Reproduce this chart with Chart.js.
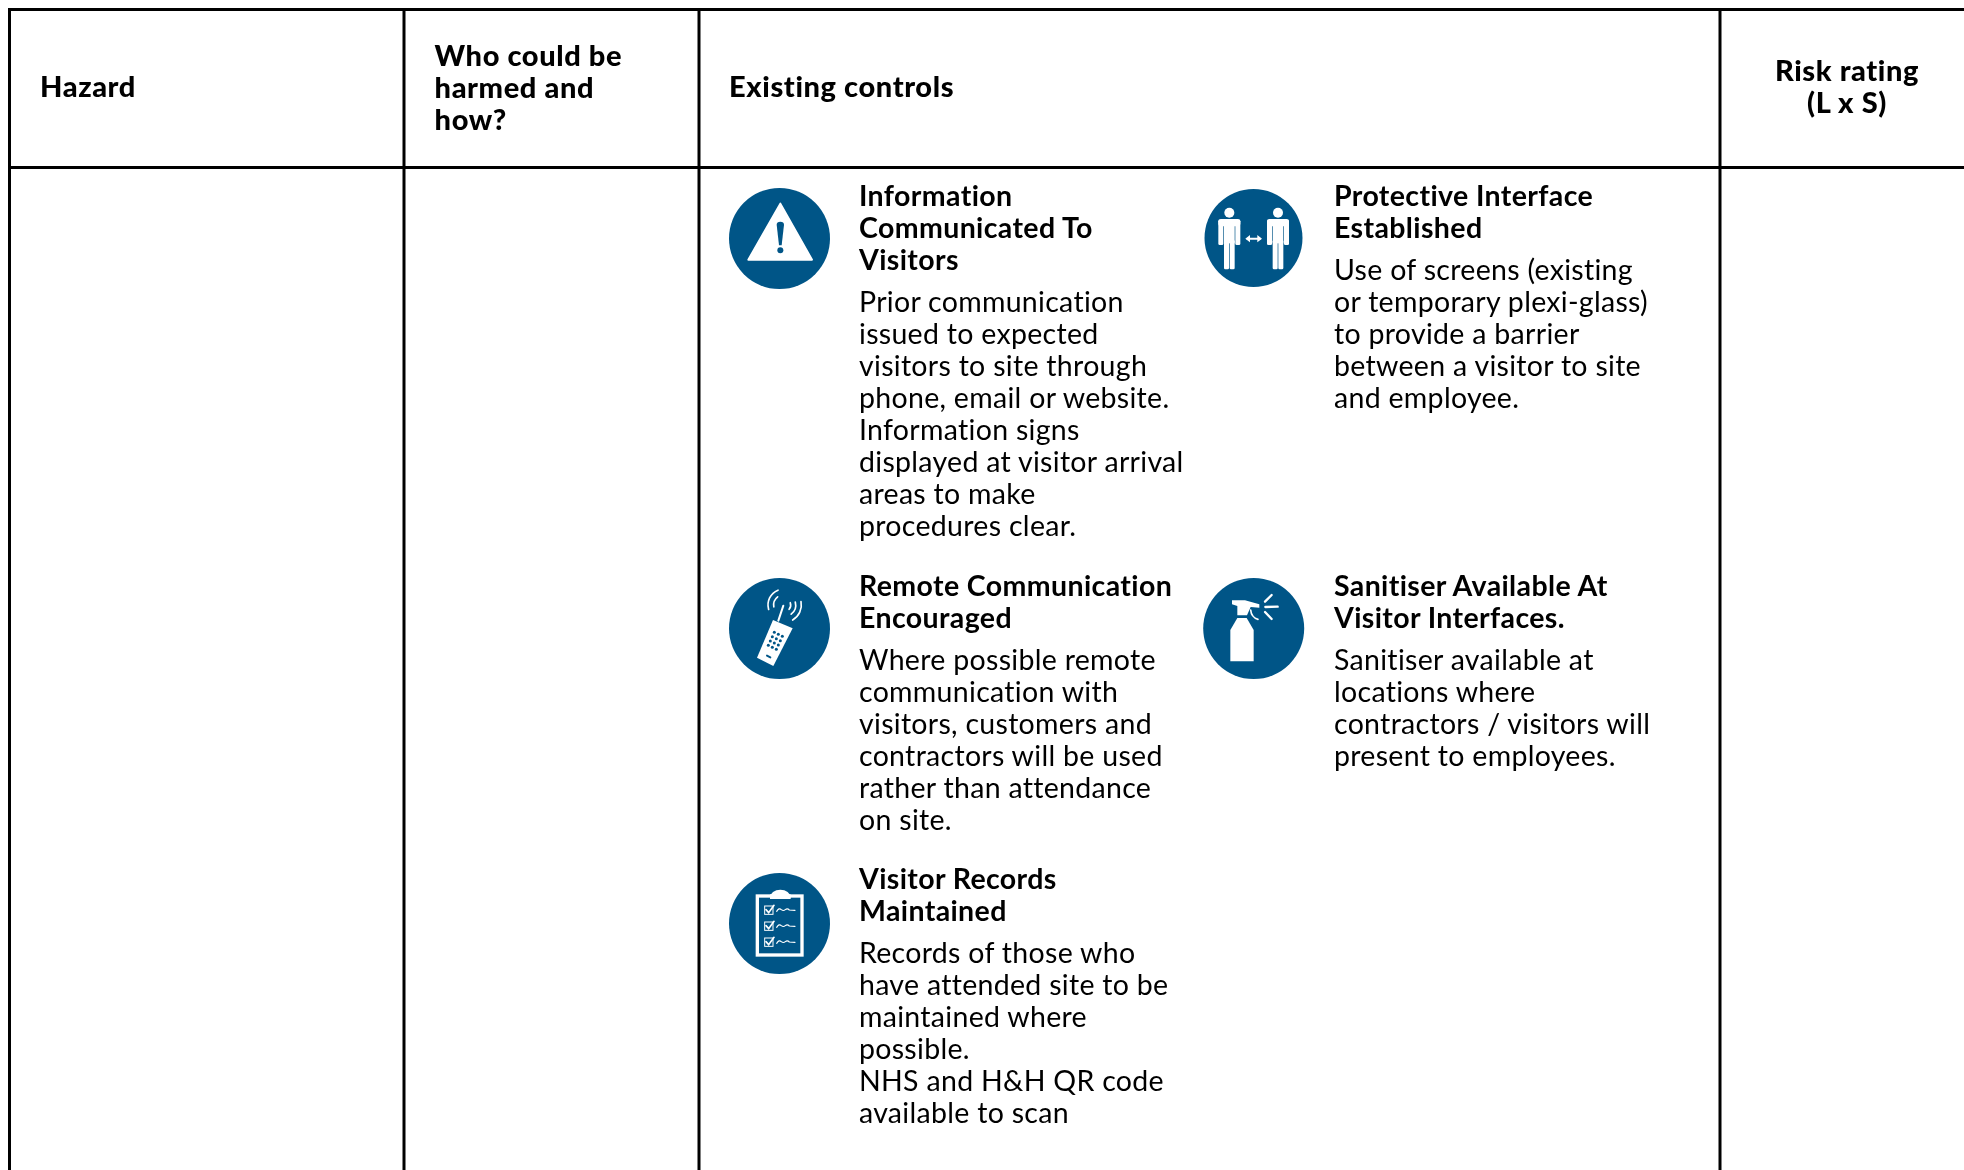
<!DOCTYPE html>
<html>
<head>
<meta charset="utf-8">
<title>Risk assessment table</title>
<script src="https://cdn.jsdelivr.net/npm/chart.js@4/dist/chart.umd.min.js"></script>
<style>
  html, body { margin:0; padding:0; background:#fff; }
  #wrap { position:relative; width:1964px; height:1170px; overflow:hidden; font-family:Lato, sans-serif; color:#000; }
  #chart { position:absolute; left:0; top:0; }
  .txt { position:absolute; white-space:nowrap; font-size:28.5px; line-height:32px; }
  .txt div { height:32px; }
  .head { font-weight:700; letter-spacing:.38px; }
  .body { margin-top:10px; font-weight:400; letter-spacing:.3px; }
  .th { font-weight:900; font-size:29px; letter-spacing:.6px; }
</style>
</head>
<body>
<div id="wrap"><canvas id="chart" width="1964" height="1170"></canvas></div>
<script>
// Tabla de riesgos: reglas e iconos van por las escalas de Chart.js (1 unidad = 1px)
const columnRules = [9.5, 404, 699, 1720];
const rowRules = [9.5, 167.5];

const iconX = [779.5, 1253.5, 779.5, 1253.7, 779.5];
const iconY = [238.5, 238, 628.5, 628.5, 923.5];
const iconR = [50.5, 49, 50.5, 50.5, 50.5];
const glyphX = [780, 1260, 780, 1260, 780];
const glyphY = [240, 240, 630, 630, 925];

const tableHeaders = ['Hazard', 'Who could be|harmed and|how?', 'Existing controls', 'Risk rating|(L x S)'];

const controlTitles = [
  ['Information', 'Communicated To', 'Visitors'],
  ['Protective Interface', 'Established'],
  ['Remote Communication', 'Encouraged'],
  ['Sanitiser Available At', 'Visitor Interfaces.'],
  ['Visitor Records', 'Maintained']
];
const controlTexts = [
  ['Prior communication', 'issued to expected', 'visitors to site through', 'phone, email or website.', 'Information signs', 'displayed at visitor arrival', 'areas to make', 'procedures clear.'],
  ['Use of screens (existing', 'or temporary plexi-glass)', 'to provide a barrier', 'between a visitor to site', 'and employee.'],
  ['Where possible remote', 'communication with', 'visitors, customers and', 'contractors will be used', 'rather than attendance', 'on site.'],
  ['Sanitiser available at', 'locations where', 'contractors / visitors will', 'present to employees.'],
  ['Records of those who', 'have attended site to be', 'maintained where', 'possible.', 'NHS and H&H QR code', 'available to scan']
];
const controlLeft = [859, 1334, 859, 1334, 859];
const controlTop = [178.5, 178.5, 569, 569, 862];

const BLUE = '#005587';

// --- texto real en HTML ---
const wrap = document.getElementById('wrap');
function addLines(lines, cls, left, top, center){
  const d = document.createElement('div');
  d.className = 'txt ' + cls;
  d.style.left = left + 'px';
  d.style.top = top + 'px';
  if (center) { d.style.transform = 'translateX(-50%)'; d.style.textAlign = 'center'; }
  lines.forEach(t => { const l = document.createElement('div'); l.textContent = t; d.appendChild(l); });
  wrap.appendChild(d);
  return d;
}
addLines(tableHeaders[0].split('|'), 'th', 40, 70);
addLines(tableHeaders[1].split('|'), 'th', 434.6, 39);
addLines(tableHeaders[2].split('|'), 'th', 729, 70);
addLines(tableHeaders[3].split('|'), 'th', 1847, 54, true);

controlTitles.forEach((title, i) => {
  const d = addLines(title, 'head', controlLeft[i], controlTop[i]);
  const b = document.createElement('div');
  b.className = 'body';
  controlTexts[i].forEach(t => { const l = document.createElement('div'); l.textContent = t; b.appendChild(l); });
  d.appendChild(b);
});

// --- glifos de los iconos, en un lienzo de 140px dibujado a 3x ---
function glyphCanvas(draw){
  const c = document.createElement('canvas');
  c.width = 140; c.height = 140;
  const g = c.getContext('2d');
  g.scale(1/3, 1/3);
  g.fillStyle = '#fff'; g.strokeStyle = '#fff'; g.lineCap = 'round'; g.lineJoin = 'round';
  draw(g);
  return c;
}
function seg(g, x1, y1, x2, y2, w){ g.lineWidth = w; g.beginPath(); g.moveTo(x1,y1); g.lineTo(x2,y2); g.stroke(); }
function poly(g, pts){ g.beginPath(); pts.forEach((p,i) => i ? g.lineTo(p[0],p[1]) : g.moveTo(p[0],p[1])); g.closePath(); g.fill(); }

const warningGlyph = glyphCanvas(g => {
  g.lineWidth = 6;
  g.beginPath(); g.moveTo(211,101); g.lineTo(306,269); g.lineTo(115,269); g.closePath(); g.fill(); g.stroke();
  g.fillStyle = BLUE;
  g.beginPath(); g.moveTo(200,164); g.quadraticCurveTo(200,155,211,155); g.quadraticCurveTo(222,155,222,164);
  g.lineTo(215,226); g.lineTo(207,226); g.closePath(); g.fill();
  g.beginPath(); g.arc(211,241,9,0,Math.PI*2); g.fill();
});

const peopleGlyph = glyphCanvas(g => {
  [118, 264].forEach(cx => {
    g.beginPath(); g.arc(cx,128,15,0,Math.PI*2); g.fill();
    g.beginPath(); g.roundRect(cx-33,147,66,22,7); g.fill();
    g.beginPath(); g.roundRect(cx-33,150,15,75,4); g.fill();
    g.beginPath(); g.roundRect(cx+18,150,15,75,4); g.fill();
    g.fillRect(cx-16,150,32,70);
    g.beginPath(); g.roundRect(cx-16,210,15,88,4); g.fill();
    g.beginPath(); g.roundRect(cx+1,210,15,88,4); g.fill();
  });
  seg(g,172,206,210,206,6);
  poly(g,[[166,206],[180,195],[180,217]]);
  poly(g,[[216,206],[202,195],[202,217]]);
});

const phoneGlyph = glyphCanvas(g => {
  seg(g,205,182,220,137,6);
  poly(g,[[189,180],[248,205],[190,318],[141,293]]);
  g.lineWidth = 5;
  const arcs = [[48,164,248],[31,170,232],[52,-11,60],[35,-14,52],[20,-20,40]];
  arcs.forEach(a => { g.beginPath(); g.arc(222,135,a[0],a[1]*Math.PI/180,a[2]*Math.PI/180); g.stroke(); });
  g.fillStyle = BLUE;
  for (let r = 0; r < 4; r++) for (let k = 0; k < 3; k++) {
    g.beginPath(); g.arc(193 + k*12 - r*6, 217 + k*6 + r*13, 4.5, 0, Math.PI*2); g.fill();
  }
  g.strokeStyle = BLUE;
  seg(g,171,287,181,292,6);
});

const sprayGlyph = glyphCanvas(g => {
  poly(g,[[126,121],[165,121],[208,133],[208,143],[182,141],[171,166],[142,166],[142,138],[126,133]]);
  poly(g,[[142,174],[170,174],[191,210],[191,304],[121,304],[121,210]]);
  g.lineWidth = 5;
  g.beginPath(); g.moveTo(182,150); g.quadraticCurveTo(184,172,204,178); g.stroke();
  seg(g,225,125,245,105,7);
  seg(g,226,141,263,140,7);
  seg(g,225,156,245,177,7);
});

const clipboardGlyph = glyphCanvas(g => {
  g.lineWidth = 10;
  g.lineJoin = 'miter';
  g.strokeRect(142,123,134,177);
  g.beginPath(); g.ellipse(211,128,31,24,0,Math.PI,0); g.fill();
  g.fillRect(180,118,62,14);
  [153, 201, 249].forEach(y => {
    g.lineWidth = 3;
    g.lineJoin = 'miter';
    g.strokeRect(164,y,25,25);
    g.lineCap = 'round';
    g.lineWidth = 5;
    g.beginPath(); g.moveTo(168,y+11); g.lineTo(176,y+20); g.lineTo(192,y-2); g.stroke();
    g.lineWidth = 3.5;
    g.beginPath(); g.moveTo(200,y+16);
    g.quadraticCurveTo(207,y+4,214,y+11); g.quadraticCurveTo(220,y+16,226,y+11);
    g.quadraticCurveTo(232,y+6,238,y+12); g.lineTo(255,y+13); g.stroke();
  });
});

const glyphs = [warningGlyph, peopleGlyph, phoneGlyph, sprayGlyph, clipboardGlyph];

// --- chart ---
const ruleSets = [
  [{x:columnRules[0],y:rowRules[0]},{x:1964,y:rowRules[0]}],
  [{x:columnRules[0],y:rowRules[1]},{x:1964,y:rowRules[1]}]
].concat(columnRules.map(x => [{x:x,y:rowRules[0]},{x:x,y:1170}]));

const datasets = ruleSets.map(pts => ({
  data: pts, showLine:true, borderColor:'#000', borderWidth:3, pointRadius:0, borderCapStyle:'square', order:2
}));
datasets.push({
  data: iconX.map((x,i) => ({x:x, y:iconY[i]})),
  pointRadius: iconR, pointStyle:'circle', backgroundColor:BLUE, borderColor:BLUE, borderWidth:0, showLine:false, order:1
});
// order mas bajo se pinta encima
datasets.push({
  data: glyphX.map((x,i) => ({x:x, y:glyphY[i]})),
  pointRadius: 10, pointStyle: glyphs, showLine:false, order:0
});

new Chart(document.getElementById('chart'), {
  type:'scatter',
  data:{ datasets },
  options:{
    responsive:false, animation:false, events:[],
    layout:{ padding:0, autoPadding:false },
    plugins:{ legend:{display:false}, tooltip:{enabled:false} },
    scales:{
      x:{ type:'linear', min:0, max:1964, display:false },
      y:{ type:'linear', min:0, max:1170, reverse:true, display:false }
    }
  }
});
</script>
</body>
</html>
